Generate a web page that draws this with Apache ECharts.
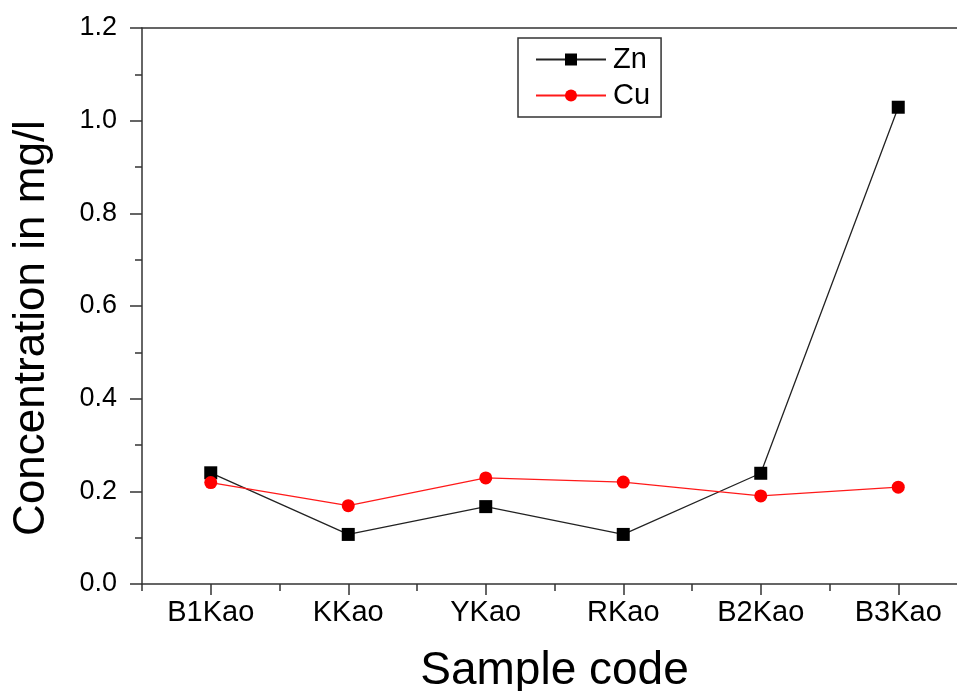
<!DOCTYPE html>
<html>
<head>
<meta charset="utf-8">
<script src="https://cdn.jsdelivr.net/npm/echarts@6/dist/echarts.min.js"></script>
<style>
html,body{margin:0;padding:0;background:#fff;}
#chart{width:957px;height:691px;}
</style>
</head>
<body>
<div id="chart"></div>
<script>
const categories = ['B1Kao', 'KKao', 'YKao', 'RKao', 'B2Kao', 'B3Kao'];
const znValues = [0.24, 0.107, 0.167, 0.107, 0.239, 1.029];
const cuValues = [0.219, 0.169, 0.229, 0.22, 0.19, 0.209];
const yTicks = { min: 0, max: 1.2, interval: 0.2 };

const FONT = "'Liberation Sans', Arial, sans-serif";
const AXIS_COLOR = '#333';

const chart = echarts.init(document.getElementById('chart'), null, { renderer: 'canvas' });
chart.setOption({
  backgroundColor: '#fff',
  animation: false,
  textStyle: { fontFamily: FONT },
  legend: {
    left: 518, top: 38,
    orient: 'vertical',
    padding: [7, 11, 7, 17],
    itemGap: 7,
    itemWidth: 70,
    itemHeight: 15,
    borderColor: '#333',
    borderWidth: 1.5,
    textStyle: { fontSize: 29, color: '#000', fontFamily: FONT, lineHeight: 27, padding: [0, 0, 0, 2] },
    data: ['Zn', 'Cu']
  },
  grid: { left: 142, right: -10, top: 28, bottom: 107, containLabel: false, outerBoundsMode: 'none' },
  xAxis: [
    {
      type: 'category', data: categories, boundaryGap: true, position: 'bottom',
      name: 'Sample code', nameLocation: 'middle', nameGap: 64,
      nameTextStyle: { fontSize: 46, color: '#000', fontFamily: FONT },
      axisLine: { show: true, lineStyle: { color: AXIS_COLOR, width: 1.5 } },
      axisTick: { show: true, alignWithLabel: true, length: 11, lineStyle: { color: AXIS_COLOR, width: 1.5 } },
      axisLabel: { fontSize: 29, color: '#000', margin: 14, fontFamily: FONT },
      splitLine: { show: false }
    },
    {
      type: 'category', data: categories, boundaryGap: true, position: 'bottom', offset: 0,
      axisLine: { show: false },
      axisTick: { show: true, alignWithLabel: false, length: 7, lineStyle: { color: AXIS_COLOR, width: 1.5 } },
      axisLabel: { show: false },
      splitLine: { show: false }
    },
    {
      type: 'category', data: categories, boundaryGap: true, position: 'top', offset: 0,
      axisLine: { show: true, lineStyle: { color: AXIS_COLOR, width: 1.5 } },
      axisTick: { show: false },
      axisLabel: { show: false },
      splitLine: { show: false }
    }
  ],
  yAxis: {
    type: 'value', min: yTicks.min, max: yTicks.max, interval: yTicks.interval,
    name: 'Concentration in mg/l', nameLocation: 'middle', nameGap: 88, nameRotate: 90,
    nameTextStyle: { fontSize: 44, color: '#000', fontFamily: FONT, padding: [0, 44, 0, 0] },
    axisLine: { show: true, lineStyle: { color: AXIS_COLOR, width: 1.5 } },
    axisTick: { show: true, length: 12, lineStyle: { color: AXIS_COLOR, width: 1.5 } },
    minorTick: { show: true, splitNumber: 2, length: 7, lineStyle: { color: AXIS_COLOR, width: 1.5 } },
    axisLabel: { fontSize: 27, color: '#000', margin: 25, fontFamily: FONT, formatter: v => v.toFixed(1) },
    splitLine: { show: false }
  },
  series: [
    {
      name: 'Zn', type: 'line', xAxisIndex: 0, data: znValues,
      symbol: 'rect', symbolSize: 13,
      itemStyle: { color: '#000' },
      lineStyle: { color: '#222', width: 1.3 }
    },
    {
      name: 'Cu', type: 'line', xAxisIndex: 0, data: cuValues,
      symbol: 'circle', symbolSize: 13,
      itemStyle: { color: '#ff0000' },
      lineStyle: { color: '#ff1a1a', width: 1.3 }
    }
  ]
});
</script>
</body>
</html>
